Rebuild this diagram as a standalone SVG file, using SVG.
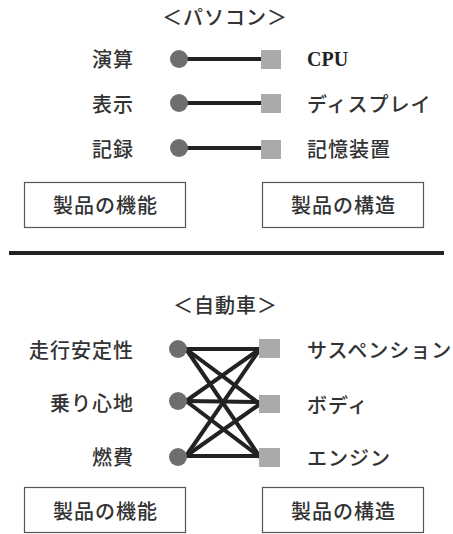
<svg xmlns="http://www.w3.org/2000/svg" width="453" height="534" viewBox="0 0 453 534">
<style>
.t{font-family:"Noto Sans CJK JP","Noto Sans CJK SC",sans-serif;font-size:20px;font-weight:500;fill:#333;letter-spacing:1px;dominant-baseline:central}
.s{font-family:"Liberation Serif",serif;font-size:20px;font-weight:bold;fill:#222;dominant-baseline:central}
.c{fill:#6e6e6e}
.q{fill:#aaa}
.b{fill:#fff;stroke:#555;stroke-width:1.2}
.l{stroke:#222;stroke-width:4;fill:none}
</style>
<rect width="453" height="534" fill="#fff"/>
<text class="t" x="225" y="16" text-anchor="middle">＜パソコン＞</text>
<g id="connectors-pc">
<line class="l" x1="186" y1="59" x2="262" y2="59"/>
<line class="l" x1="186" y1="103" x2="262" y2="103"/>
<line class="l" x1="186" y1="148" x2="262" y2="148"/>
</g>
<g id="pc-func-1"><text class="t" x="134" y="58" text-anchor="end">演算</text><circle class="c" cx="179" cy="59" r="9"/></g>
<g id="pc-func-2"><text class="t" x="134" y="103" text-anchor="end">表示</text><circle class="c" cx="179" cy="103" r="9"/></g>
<g id="pc-func-3"><text class="t" x="134" y="148" text-anchor="end">記録</text><circle class="c" cx="179" cy="148" r="9"/></g>
<g id="pc-struct-1"><rect class="q" x="261" y="50" width="20" height="19"/><text class="s" x="307" y="59">CPU</text></g>
<g id="pc-struct-2"><rect class="q" x="261" y="94" width="20" height="19"/><text class="t" x="307" y="103">ディスプレイ</text></g>
<g id="pc-struct-3"><rect class="q" x="261" y="140" width="20" height="19"/><text class="t" x="307" y="148">記憶装置</text></g>
<g id="pc-box-func"><rect class="b" x="24.5" y="182.5" width="161" height="45"/><text class="t" x="105.5" y="204" text-anchor="middle">製品の機能</text></g>
<g id="pc-box-struct"><rect class="b" x="262.5" y="182.5" width="161" height="45"/><text class="t" x="343.5" y="204" text-anchor="middle">製品の構造</text></g>
<line x1="9" y1="253" x2="444" y2="253" stroke="#222" stroke-width="4"/>
<text class="t" x="225.5" y="304" text-anchor="middle">＜自動車＞</text>
<g id="connectors-car">
<line class="l" x1="186" y1="349" x2="260" y2="349"/>
<line class="l" x1="186" y1="349" x2="260" y2="404"/>
<line class="l" x1="186" y1="349" x2="260" y2="457"/>
<line class="l" x1="186" y1="401" x2="260" y2="349"/>
<line class="l" x1="186" y1="401" x2="260" y2="402"/>
<line class="l" x1="186" y1="401" x2="260" y2="457"/>
<line class="l" x1="186" y1="456" x2="260" y2="349"/>
<line class="l" x1="186" y1="456" x2="260" y2="404"/>
<line class="l" x1="186" y1="456" x2="260" y2="456"/>
</g>
<g id="car-func-1"><text class="t" x="134" y="349" text-anchor="end">走行安定性</text><circle class="c" cx="178" cy="349" r="9"/></g>
<g id="car-func-2"><text class="t" x="134" y="402" text-anchor="end">乗り心地</text><circle class="c" cx="178" cy="401" r="9"/></g>
<g id="car-func-3"><text class="t" x="134" y="456" text-anchor="end">燃費</text><circle class="c" cx="178" cy="457" r="9"/></g>
<g id="car-struct-1"><rect class="q" x="259" y="339" width="21" height="19"/><text class="t" x="307" y="349">サスペンション</text></g>
<g id="car-struct-2"><rect class="q" x="259" y="395" width="21" height="18"/><text class="t" x="307" y="404">ボディ</text></g>
<g id="car-struct-3"><rect class="q" x="259" y="448" width="21" height="19"/><text class="t" x="307" y="457">エンジン</text></g>
<g id="car-box-func"><rect class="b" x="24.5" y="487.5" width="161" height="45"/><text class="t" x="105.5" y="510" text-anchor="middle">製品の機能</text></g>
<g id="car-box-struct"><rect class="b" x="262.5" y="487.5" width="161" height="45"/><text class="t" x="343.5" y="510" text-anchor="middle">製品の構造</text></g>
</svg>
